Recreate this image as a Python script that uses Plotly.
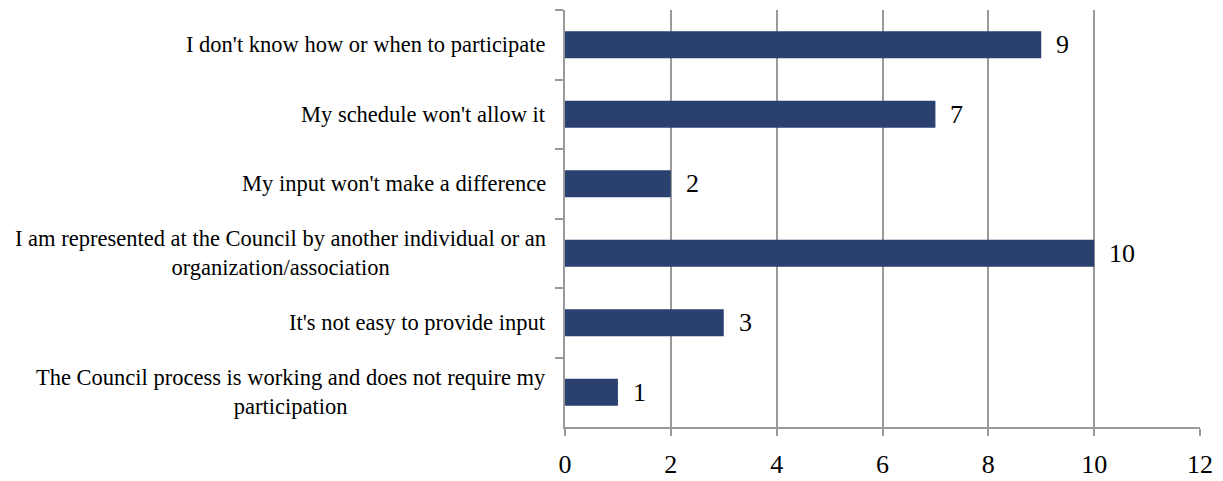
import plotly.graph_objects as go

categories = [
    "I don't know how or when to participate",
    "My schedule won't allow it",
    "My input won't make a difference",
    "I am represented at the Council by another individual or an<br>organization/association",
    "It's not easy to provide input",
    "The Council process is working and does not require my<br>participation",
]
values = [9, 7, 2, 10, 3, 1]
x_ticks = [0, 2, 4, 6, 8, 10, 12]

FONT = "Liberation Serif, Times New Roman, serif"
GRID = "#9a9a9a"

fig = go.Figure()
fig.add_trace(go.Bar(
    y=categories, x=values, orientation="h",
    marker=dict(color="#2A4170", line=dict(width=0)),
    hoverinfo="x+y",
))

annotations = []
for c, v in zip(categories, values):
    annotations.append(dict(
        x=v, y=c, xref="x", yref="y", text=str(v), showarrow=False,
        xanchor="left", xshift=13, font=dict(family=FONT, size=26, color="black"),
    ))
    annotations.append(dict(
        x=0, y=c, xref="paper", yref="y", text=c, showarrow=False,
        xanchor="right", xshift=-17, align="center",
        font=dict(family=FONT, size=22.5, color="black"),
    ))

fig.update_layout(
    width=1207, height=473,
    margin=dict(l=557, r=15, t=2, b=41),
    paper_bgcolor="white", plot_bgcolor="white",
    bargap=0.61, showlegend=False,
    font=dict(family=FONT, color="black"),
    annotations=annotations,
    xaxis=dict(
        range=[0, 12], tickvals=x_ticks, ticktext=[str(t) for t in x_ticks],
        showgrid=True, gridcolor=GRID, gridwidth=2,
        showline=True, linecolor=GRID, linewidth=2,
        ticks="outside", ticklen=7, tickcolor=GRID, tickwidth=2,
        ticklabelstandoff=6,
        tickfont=dict(family=FONT, size=26, color="black"),
        zeroline=False, fixedrange=True,
    ),
    yaxis=dict(
        categoryorder="array", categoryarray=categories, autorange="reversed",
        showticklabels=False, tickson="boundaries",
        ticks="outside", ticklen=8, tickcolor=GRID, tickwidth=2,
        showline=True, linecolor=GRID, linewidth=2,
        showgrid=False, zeroline=False, fixedrange=True,
    ),
)

fig.write_html("out.html")
